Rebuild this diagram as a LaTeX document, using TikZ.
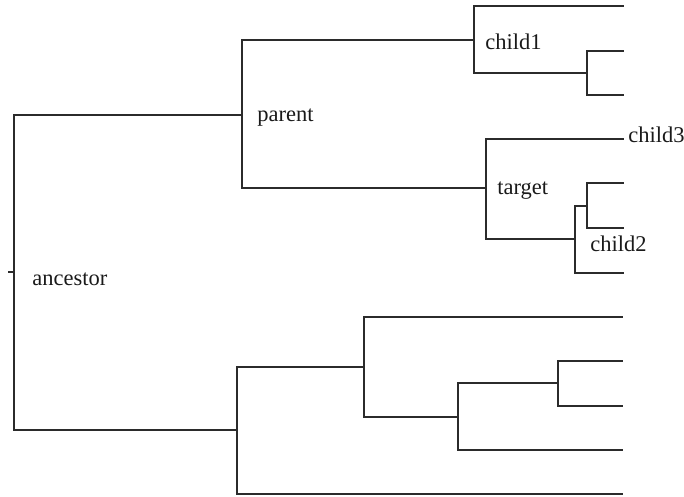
\documentclass[tikz,border=0pt]{standalone}
\usepackage{fontspec}
\setmainfont{Liberation Serif}
\usetikzlibrary{positioning}
\definecolor{treeline}{HTML}{2B2B2B}
\definecolor{labeltext}{HTML}{1A1A1A}

\begin{document}
\begin{tikzpicture}[
  x=0.025cm, y=-0.025cm,
  branch/.style={draw=treeline, line width=1.4pt},
  lbl/.style={font=\fontsize{16}{19}\selectfont, text=labeltext, inner sep=0pt, anchor=base west},
]
\useasboundingbox (0,0) rectangle (684,497);

% ═══════════════════════════════════════════
% INTERNAL NODES (junction points)
% ═══════════════════════════════════════════
\coordinate (root) at (8,272);
\coordinate (anc)  at (14,272);
\coordinate (par)  at (242,115);
\coordinate (low)  at (237,430);
\coordinate (c1)   at (474,40);
\coordinate (c1b)  at (587,73);
\coordinate (tgt)  at (486,188);
\coordinate (c2)   at (575,239);
\coordinate (c2a)  at (587,206);
\coordinate (low1) at (364,367);
\coordinate (low2) at (458,417);
\coordinate (low3) at (558,383);

% ═══════════════════════════════════════════
% LEAVES (tips)
% ═══════════════════════════════════════════
\coordinate (tipA) at (624,6);
\coordinate (tipB) at (624,51);
\coordinate (tipC) at (624,95);
\coordinate (c3)   at (624,139);
\coordinate (tipD) at (624,183);
\coordinate (tipE) at (624,228);
\coordinate (tipF) at (624,273);
\coordinate (tipG) at (623,317);
\coordinate (tipH) at (623,361);
\coordinate (tipI) at (623,406);
\coordinate (tipJ) at (623,450);
\coordinate (tipK) at (623,494);

% ═══════════════════════════════════════════
% BRANCHES (elbow connectors)
% ═══════════════════════════════════════════
\draw[branch] (root) -- (anc);
\foreach \a/\b in {anc/par, anc/low,
                   par/c1, par/tgt,
                   c1/tipA, c1/c1b, c1b/tipB, c1b/tipC,
                   tgt/c3, tgt/c2, c2/c2a, c2/tipF, c2a/tipD, c2a/tipE,
                   low/low1, low/tipK,
                   low1/tipG, low1/low2, low2/low3, low2/tipJ,
                   low3/tipH, low3/tipI} {
  \draw[branch] (\a) |- (\b);
}

% ═══════════════════════════════════════════
% LABELS
% ═══════════════════════════════════════════
\node[lbl] (ancestorlbl) at ([shift={(18,14)}]anc) {ancestor};
\node[lbl] (parentlbl)   at ([shift={(15,7)}]par)  {parent};
\node[lbl] (child1lbl)   at ([shift={(11,10)}]c1)  {child1};
\node[lbl] (targetlbl)   at ([shift={(11,7)}]tgt)  {target};
\node[lbl] (child3lbl)   at ([shift={(4,4)}]c3)    {child3};
\node[lbl] (child2lbl)   at ([shift={(15,13)}]c2)  {child2};

\end{tikzpicture}
\end{document}
